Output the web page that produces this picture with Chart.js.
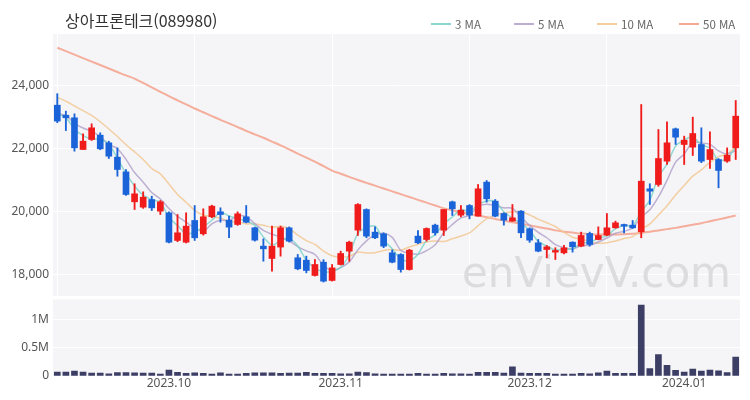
<!DOCTYPE html>
<html lang="ko">
<head>
<meta charset="utf-8">
<script src="https://cdn.jsdelivr.net/npm/chart.js@4.4.1/dist/chart.umd.min.js"></script>
<style>
  html, body { margin: 0; padding: 0; background: #fff; }
  #wrap { position: relative; width: 750px; height: 400px; overflow: hidden;
          font-family: 'Noto Sans CJK KR', 'Noto Sans', sans-serif; }
  #price { position: absolute; left: 0; top: 0; }
  #vol { position: absolute; left: 0; top: 296px; }
  #title { position: absolute; left: 65px; top: 8px; font-size: 16px; color: #333; }
  .lg { position: absolute; top: 16px; font-size: 11.5px; color: #666; display: flex; align-items: center; }
  .lg i { display: inline-block; width: 20px; height: 2px; margin-right: 4px; }
</style>
</head>
<body>
<div id="wrap">
  <canvas id="price" width="750" height="298"></canvas>
  <canvas id="vol" width="750" height="104"></canvas>
  <div id="title">상아프론테크(089980)</div>
  <div class="lg" style="left:431px"><i style="background:#8ad8d0"></i>3 MA</div>
  <div class="lg" style="left:514px"><i style="background:#bcaed0"></i>5 MA</div>
  <div class="lg" style="left:597px"><i style="background:#f3cd9c"></i>10 MA</div>
  <div class="lg" style="left:679px"><i style="background:#f6a895"></i>50 MA</div>
</div>
<script>
// 거래일 (2023.09.11 ~ 2024.01.10)
const dates = [
  '2023-09-11','2023-09-12','2023-09-13','2023-09-14','2023-09-15','2023-09-18','2023-09-19','2023-09-20','2023-09-21','2023-09-22',
  '2023-09-25','2023-09-26','2023-09-27','2023-10-04','2023-10-05','2023-10-06','2023-10-10','2023-10-11','2023-10-12','2023-10-13',
  '2023-10-16','2023-10-17','2023-10-18','2023-10-19','2023-10-20','2023-10-23','2023-10-24','2023-10-25','2023-10-26','2023-10-27',
  '2023-10-30','2023-10-31','2023-11-01','2023-11-02','2023-11-03','2023-11-06','2023-11-07','2023-11-08','2023-11-09','2023-11-10',
  '2023-11-13','2023-11-14','2023-11-15','2023-11-16','2023-11-17','2023-11-20','2023-11-21','2023-11-22','2023-11-23','2023-11-24',
  '2023-11-27','2023-11-28','2023-11-29','2023-11-30','2023-12-01','2023-12-04','2023-12-05','2023-12-06','2023-12-07','2023-12-08',
  '2023-12-11','2023-12-12','2023-12-13','2023-12-14','2023-12-15','2023-12-18','2023-12-19','2023-12-20','2023-12-21','2023-12-22',
  '2023-12-26','2023-12-27','2023-12-28','2024-01-02','2024-01-03','2024-01-04','2024-01-05','2024-01-08','2024-01-09','2024-01-10'
];

const opens = [
  23375,23057,22975,21968,22285,22423,22180,21725,21258,20307,
  20137,20380,20010,19958,19080,19025,19715,19292,19832,19990,
  19725,19587,19832,19482,18900,18508,18870,19482,18530,18455,
  17968,18390,17810,18317,18741,19407,20063,19345,19292,18688,
  18635,18158,19218,19111,19567,19407,20307,19883,20190,19852,
  20932,20328,19936,19693,20010,19450,19006,18793,18709,18688,
  19025,18900,19302,19111,19250,19482,19587,19567,19355,20720,
  20857,21598,22625,22127,22042,22127,21650,21650,21598,22020
];
const highs = [
  23740,23185,23100,22467,22784,22498,22232,22020,21333,20880,
  20625,20487,20349,19990,19904,19958,20190,20085,20200,20117,
  19852,19990,20190,19500,19133,19535,19535,19510,18635,18582,
  18476,18470,18317,18741,19058,20250,20085,19513,19323,18780,
  18660,18800,19397,19480,19600,20063,20330,20190,20220,20857,
  20984,20380,19960,20222,20030,19480,19111,18922,18850,18922,
  19040,19345,19345,19513,19936,19693,19600,19715,23397,20880,
  22603,22847,22650,22392,22995,22657,22530,21680,22020,23524
];
const lows = [
  22820,22570,21915,21968,22254,21960,21682,21120,20510,20063,
  20100,20030,19904,19000,19040,19000,19080,19250,19800,19660,
  19165,19560,19640,19060,18422,18105,18582,19030,18150,18053,
  17950,17760,17790,18300,18420,19238,19165,19140,18850,18370,
  18074,18140,18980,19060,19250,19238,19873,19830,19767,19852,
  20297,19830,19567,19693,19165,19020,18720,18530,18476,18650,
  18709,18880,18900,19100,19230,19470,19323,19460,19165,20222,
  20800,21492,22127,21492,21777,21550,21365,20752,21560,21650
];
const closes = [
  22870,22975,22020,22232,22657,21990,21755,21333,20540,20562,
  20455,20115,20307,19025,19323,19535,19165,19832,20170,19904,
  19503,19927,19660,19090,18815,18900,19482,19058,18180,18127,
  18317,17788,18210,18667,19025,20222,19218,19165,18900,18390,
  18158,18773,19006,19460,19323,20063,20085,20042,19883,20720,
  20403,19852,19725,19800,19323,19090,18741,18878,18762,18847,
  18878,19238,18953,19238,19482,19640,19535,19482,20963,20645,
  21682,22180,22360,22265,22476,21598,21968,21302,21788,23027
];

const ma3 = [
  23100,22980,22622,22409,22303,22293,22134,21693,21209,20812,
  20519,20377,20292,19816,19552,19294,19341,19511,19722,19969,
  19859,19778,19697,19559,19188,18935,19066,19147,18907,18455,
  18208,18077,18105,18222,18634,19305,19488,19535,19094,18818,
  18483,18440,18646,19080,19263,19615,19824,20063,20003,20215,
  20335,20325,19993,19792,19616,19404,19051,18903,18776,18811,
  18811,18988,19023,19143,19224,19453,19552,19552,19993,20363,
  21097,21502,22074,22268,22367,22113,22014,21623,21686,22039
];
const ma5 = [
  23100,23050,22800,22650,22551,22375,22131,21993,21655,21236,
  20929,20601,20396,20093,19845,19661,19471,19376,19605,19721,
  19715,19867,19833,19617,19399,19278,19189,19069,18887,18749,
  18633,18294,18124,18222,18401,18782,19068,19259,19306,19179,
  18766,18677,18645,18757,18944,19325,19587,19795,19879,20159,
  20227,20180,20117,20100,19821,19558,19336,19166,18948,18853,
  18811,18910,18925,19031,19158,19310,19370,19475,19820,20053,
  20461,20990,21566,21826,22193,22176,22133,21922,21826,21937
];
const ma10 = [
  23620,23500,23350,23200,23050,22850,22620,22380,22120,21893,
  21652,21366,21195,20874,20541,20295,20036,19886,19849,19783,
  19688,19669,19604,19611,19560,19497,19528,19451,19252,19074,
  18956,18742,18597,18554,18575,18708,18681,18692,18764,18790,
  18774,18873,18952,19032,19062,19046,19132,19220,19318,19551,
  19776,19884,19956,19990,19990,19892,19758,19642,19524,19337,
  19184,19123,19046,18990,19005,19060,19140,19200,19426,19605,
  19886,20180,20521,20823,21123,21319,21562,21744,21826,22065
];
const ma50 = [
  25200,25090,24980,24870,24760,24650,24540,24430,24320,24220,
  24080,23940,23800,23660,23530,23400,23270,23150,23030,22910,
  22800,22680,22560,22450,22340,22220,22100,21970,21840,21710,
  21580,21440,21300,21200,21100,21000,20910,20820,20730,20640,
  20550,20460,20370,20280,20190,20100,20040,19980,19920,19870,
  19820,19760,19710,19660,19610,19560,19510,19460,19400,19360,
  19330,19300,19280,19270,19270,19270,19280,19290,19320,19360,
  19400,19440,19480,19530,19580,19630,19690,19750,19810,19870
];

const volumes = [
  71000,71000,85000,71000,50000,50000,40000,60000,60000,55000,
  50000,50000,35000,105000,65000,45000,55000,45000,35000,55000,
  35000,35000,45000,55000,55000,55000,45000,50000,50000,65000,
  45000,45000,45000,40000,40000,70000,60000,40000,35000,35000,
  35000,35000,45000,35000,35000,45000,40000,40000,35000,65000,
  65000,65000,50000,160000,50000,45000,45000,45000,35000,35000,
  35000,45000,40000,55000,85000,45000,45000,45000,1250000,130000,
  380000,190000,100000,71000,120000,85000,105000,90000,60000,333000
];

const priceTicks = [18000, 20000, 22000, 24000];
const volTicks = [0, 500000, 1000000];
const monthTicks = ['2023.10', '2023.11', '2023.12', '2024.01'];
const monthTickIdx = [13, 33, 55, 73];

const UP = '#f01c1c', DOWN = '#1a63d8';
const isUp = i => closes[i] >= opens[i];
const candleColor = ctx => isUp(ctx.dataIndex) ? UP : DOWN;

// 플롯 영역 배경
const plotBg = {
  id: 'plotBg',
  beforeDraw(chart) {
    const { ctx, chartArea: a } = chart;
    ctx.save();
    ctx.fillStyle = '#f5f5f7';
    ctx.fillRect(a.left, a.top, a.right - a.left, a.bottom - a.top);
    ctx.restore();
  }
};

const watermark = {
  id: 'watermark',
  beforeDatasetsDraw(chart) {
    const { ctx, chartArea: a } = chart;
    ctx.save();
    ctx.font = '42px "DejaVu Sans", sans-serif';
    ctx.fillStyle = '#dcdcdf';
    ctx.textAlign = 'right';
    ctx.fillText('enVievV.com', a.right - 9, a.bottom - 9);
    ctx.restore();
  }
};

// y축 폭 고정, 라벨용 여백 제거
const fixWidth = axis => { axis.width = 53; axis.paddingTop = 0; axis.paddingBottom = 0; };
const tickFont = { family: "'Noto Sans', sans-serif", size: 12 };

const maLine = (label, data, color, width) => ({
  type: 'line', label, data, borderColor: color, borderWidth: width,
  pointRadius: 0, tension: 0.3, order: 1
});

new Chart(document.getElementById('price'), {
  type: 'bar',
  data: {
    labels: dates,
    datasets: [
      { label: 'wick', data: lows.map((l, i) => [l, highs[i]]), backgroundColor: candleColor,
        barThickness: 1.2, grouped: false, order: 0 },
      { label: 'body', data: opens.map((o, i) => [o, closes[i]]), backgroundColor: candleColor,
        barThickness: 6, grouped: false, minBarLength: 1, order: 0 },
      maLine('3 MA', ma3, 'rgba(120,210,200,0.8)', 1.5),
      maLine('5 MA', ma5, 'rgba(175,158,200,0.8)', 1.5),
      maLine('10 MA', ma10, 'rgba(242,200,148,0.85)', 1.5),
      maLine('50 MA', ma50, 'rgba(245,160,140,0.85)', 2)
    ]
  },
  options: {
    responsive: false, animation: false, devicePixelRatio: 1,
    layout: { padding: { top: 34, right: 10, bottom: 2, left: 0 } },
    plugins: { legend: { display: false }, tooltip: { enabled: false } },
    scales: {
      x: {
        offset: true,
        afterFit: axis => { axis.height = 0; },
        grid: { offset: false, drawTicks: false,
                color: c => c.index % 16 === 0 ? '#ffffff' : 'rgba(0,0,0,0)' },
        ticks: { display: false, autoSkip: false },
        border: { display: false }
      },
      y: {
        min: 17317, max: 25635,
        afterFit: fixWidth,
        afterBuildTicks: axis => { axis.ticks = priceTicks.map(v => ({ value: v })); },
        grid: { color: '#ffffff', drawTicks: false },
        border: { display: false },
        ticks: { padding: 4, color: '#555', font: tickFont, callback: v => v.toLocaleString('en-US') }
      }
    }
  },
  plugins: [plotBg, watermark]
});

new Chart(document.getElementById('vol'), {
  type: 'bar',
  data: {
    labels: dates,
    datasets: [{ label: '거래량', data: volumes, backgroundColor: '#3c3e66', barThickness: 6 }]
  },
  options: {
    responsive: false, animation: false, devicePixelRatio: 1,
    layout: { padding: { top: 3.5, right: 10, bottom: 9.6, left: 0 } },
    plugins: { legend: { display: false }, tooltip: { enabled: false } },
    scales: {
      x: {
        offset: true,
        grid: { display: false, drawTicks: false },
        border: { display: false },
        ticks: {
          autoSkip: false, maxRotation: 0, padding: 0, color: '#555', font: tickFont,
          callback: (v, i) => { const k = monthTickIdx.indexOf(i); return k >= 0 ? monthTicks[k] : ''; }
        }
      },
      y: {
        min: 0, max: 1350000,
        afterFit: fixWidth,
        afterBuildTicks: axis => { axis.ticks = volTicks.map(v => ({ value: v })); },
        grid: { color: '#ffffff', drawTicks: false },
        border: { display: false },
        ticks: { padding: 4, color: '#555', font: tickFont, callback: v => v === 0 ? '0' : (v / 1e6) + 'M' }
      }
    }
  },
  plugins: [plotBg]
});
</script>
</body>
</html>
